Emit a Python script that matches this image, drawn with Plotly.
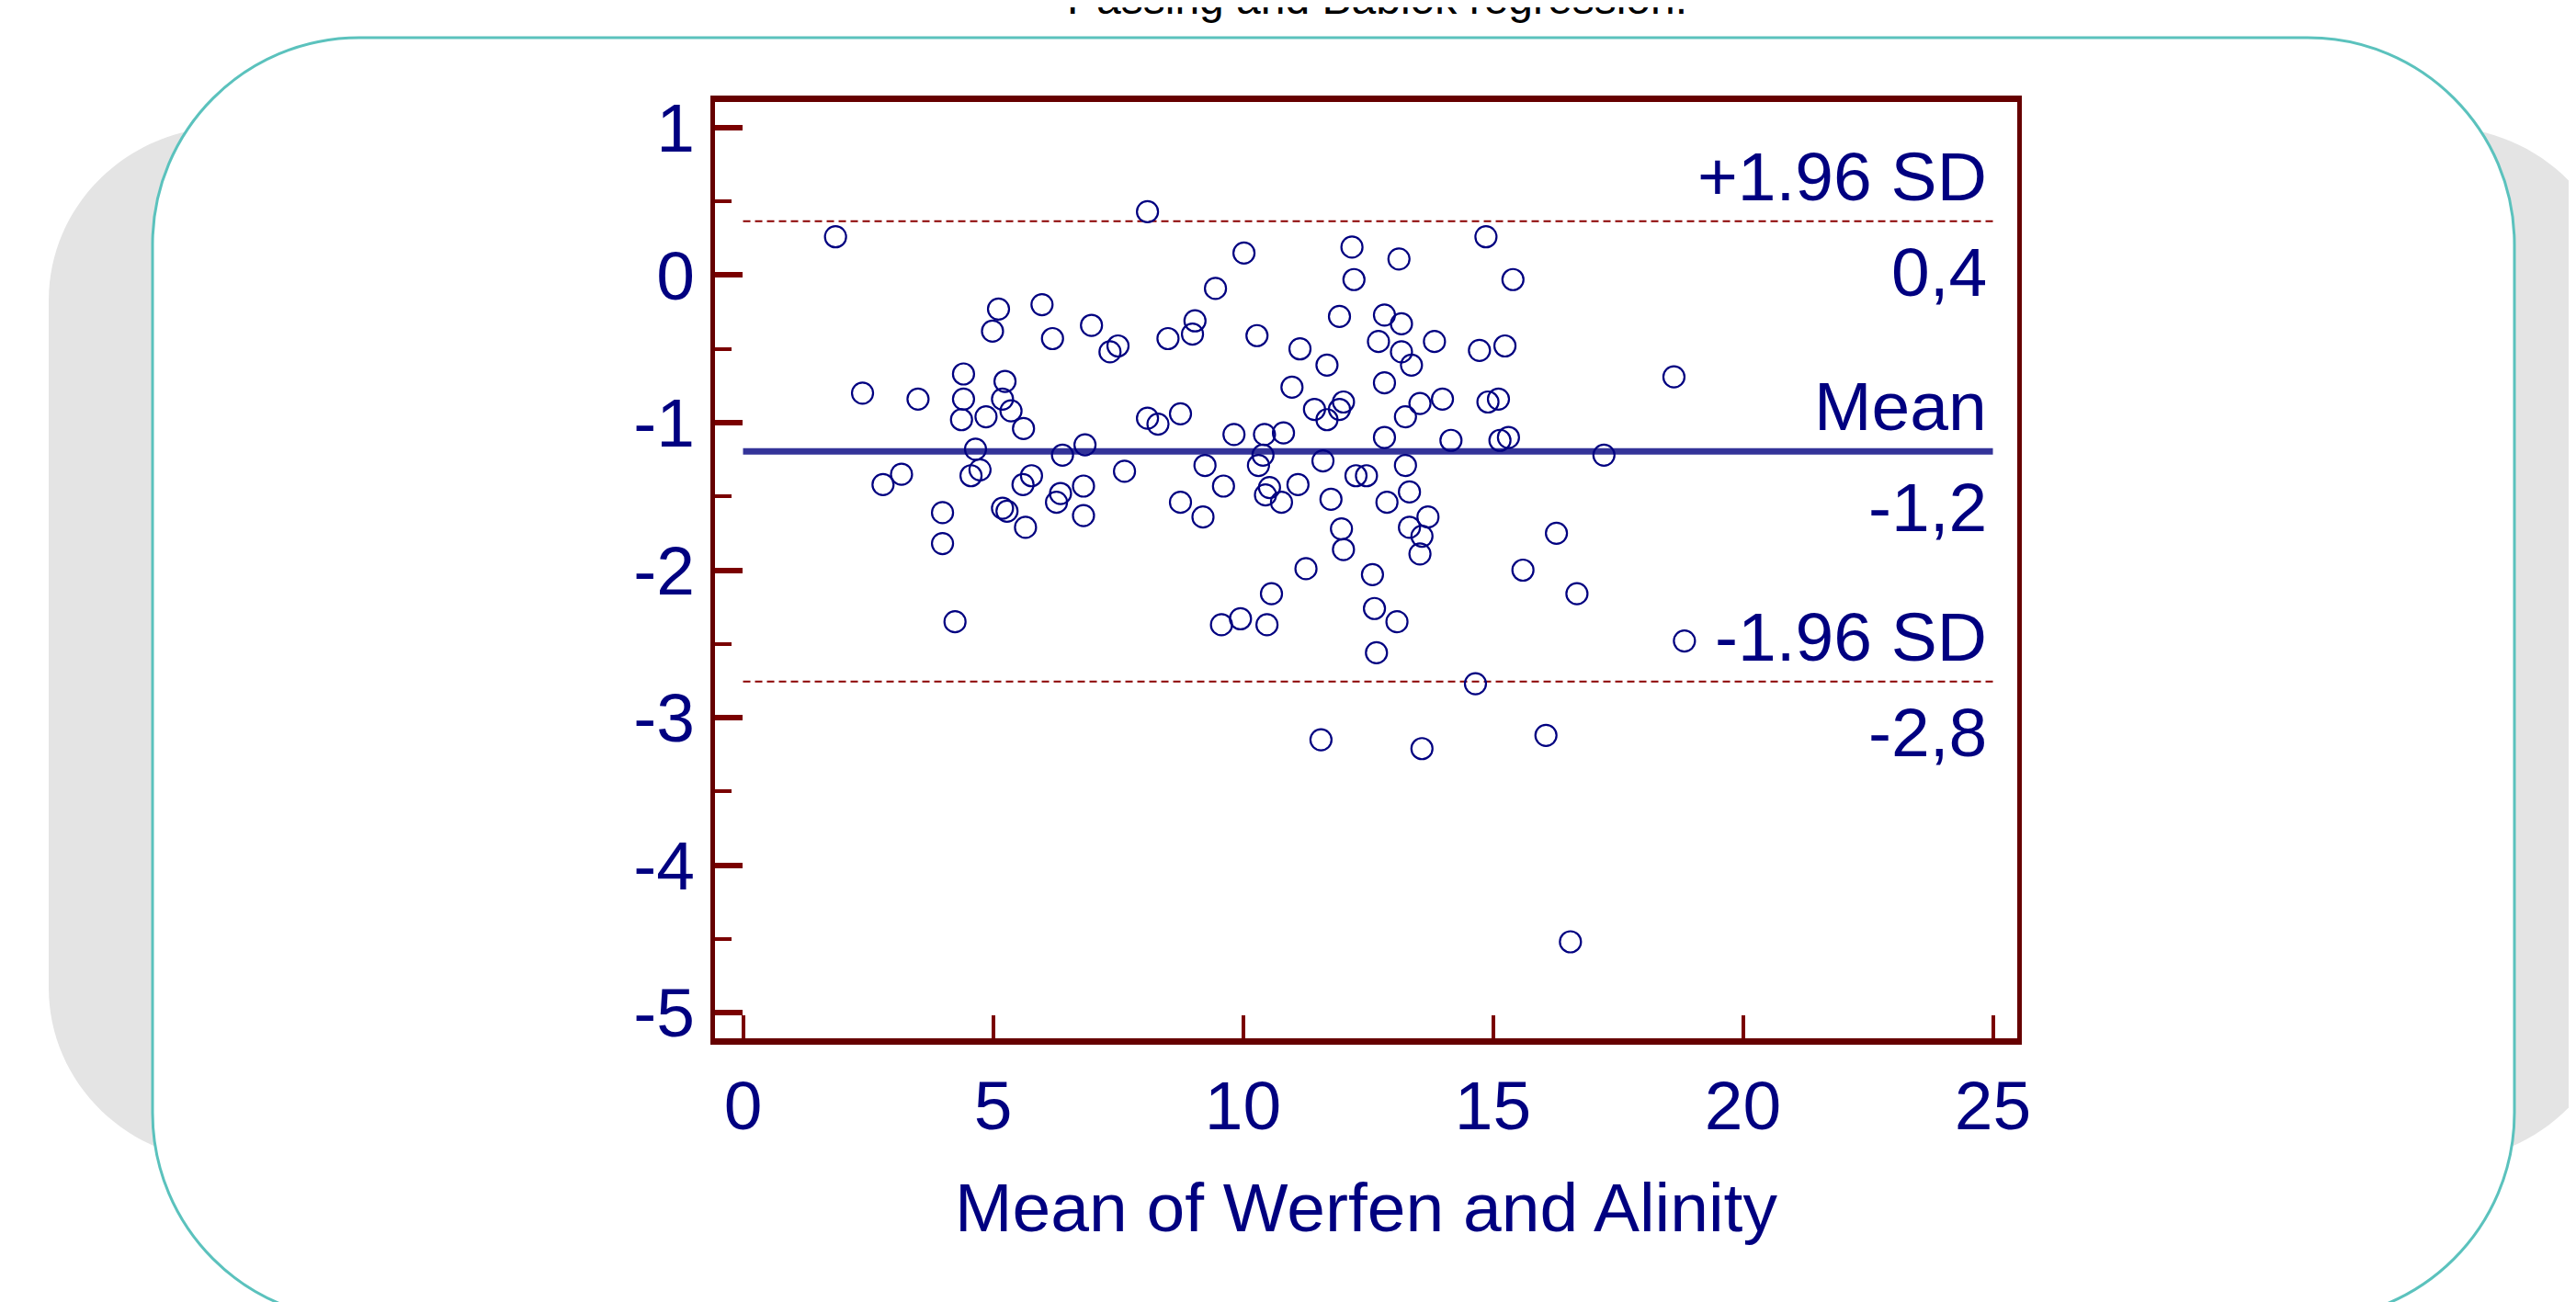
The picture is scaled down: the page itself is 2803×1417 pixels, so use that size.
import plotly.graph_objects as go

# ---------------- data ----------------
mean_x = [1.85, 8.09, 10.02, 9.45, 5.11, 5.98, 4.99, 6.19, 6.97, 7.50, 7.34, 8.50, 9.04, 8.99,
          4.41, 5.24, 2.39, 3.50, 4.41, 5.19, 5.36, 4.37, 4.86, 5.61, 8.09, 8.30, 8.75, 9.82,
          4.65, 6.84, 6.39, 3.17, 2.80, 4.56, 4.74, 5.77, 5.60, 7.63, 6.81, 6.35, 6.27, 9.24,
          9.61, 8.75, 9.20, 3.99, 5.19, 5.28, 5.65, 6.81, 3.99,
          12.18, 13.12, 14.86, 12.22, 15.40, 11.93, 12.83, 13.17, 10.28, 11.14, 12.71, 13.17,
          13.37, 13.83, 14.73, 15.24, 11.68, 10.98, 12.83, 18.62, 11.43, 12.01, 11.93, 11.68,
          13.54, 13.25, 13.99, 14.90, 15.11, 10.43, 10.81, 12.83, 14.16, 15.31, 15.14, 10.40,
          10.31, 11.60, 17.22, 13.25, 12.26, 12.47, 11.10, 10.53, 10.45, 10.77, 11.76, 13.33,
          12.88, 13.70, 13.33, 13.58, 13.54, 11.97, 12.01, 16.27, 11.26, 12.59, 15.60,
          4.24, 9.57, 9.95, 10.57, 16.68, 10.48, 12.63, 13.08, 12.67, 18.83, 14.65, 11.56,
          13.58, 16.06, 16.55]
diff_y = [0.26, 0.43, 0.15, -0.09, -0.23, -0.20, -0.38, -0.43, -0.34, -0.48, -0.52, -0.43, -0.31, -0.40,
          -0.67, -0.72, -0.80, -0.84, -0.84, -0.84, -0.92, -0.98, -0.96, -1.04, -0.97, -1.01, -0.94, -1.08,
          -1.18, -1.15, -1.22, -1.35, -1.42, -1.36, -1.32, -1.36, -1.42, -1.33, -1.43, -1.48, -1.54, -1.29,
          -1.43, -1.54, -1.64, -1.61, -1.58, -1.60, -1.71, -1.63, -1.82,
          0.19, 0.11, 0.26, -0.03, -0.03, -0.28, -0.27, -0.33, -0.41, -0.50, -0.45, -0.52,
          -0.61, -0.45, -0.51, -0.48, -0.61, -0.76, -0.73, -0.69, -0.91, -0.86, -0.91, -0.98,
          -0.87, -0.96, -0.84, -0.86, -0.84, -1.08, -1.07, -1.10, -1.12, -1.10, -1.12, -1.22,
          -1.29, -1.26, -1.22, -1.29, -1.36, -1.36, -1.42, -1.44, -1.49, -1.54, -1.52, -1.47,
          -1.54, -1.64, -1.71, -1.77, -1.89, -1.72, -1.86, -1.75, -1.99, -2.03, -2.00,
          -2.35, -2.37, -2.33, -2.16, -2.16, -2.37, -2.26, -2.35, -2.56, -2.48, -2.77, -3.15,
          -3.21, -3.12, -4.52]

mean_diff = -1.195
upper_loa = 0.365
lower_loa = -2.755
line_x = [0, 25]

x_ticks = [0, 5, 10, 15, 20, 25]
x_tick_text = ["0", "5", "10", "15", "20", "25"]
y_ticks = [1, 0, -1, -2, -3, -4, -5]
y_tick_text = ["1", "0", "-1", "-2", "-3", "-4", "-5"]

label_names = ["+1.96 SD", "0,4", "Mean", "-1,2", "-1.96 SD", "-2,8"]
label_levels = [upper_loa, upper_loa, mean_diff, mean_diff, lower_loa, lower_loa]
label_shift = [49, -55, 49, -61, 49, -55]

title_text = "Passing and Bablok regression."
x_title = "Mean of Werfen and Alinity"

# ---------------- layout geometry (pixels, page coordinates) ----------------
W, H = 2803, 1417
PAGE_OFF = 8  # default body margin of the html page
PL, PR, PT, PB = 778, 2195, 111, 1130  # plot area edges on the page

def px(X):
    return (X - PL) / (PR - PL)

def py(Y):
    return (PB - Y) / (PB - PT)

def rrect(x0, y0, x1, y1, rx, ry):
    k = 0.5523
    def P(x, y):
        return f"{px(x):.5f},{py(y):.5f}"
    d = (f"M {P(x0+rx, y0)} L {P(x1-rx, y0)} "
         f"C {P(x1-rx+k*rx, y0)} {P(x1, y0+ry-k*ry)} {P(x1, y0+ry)} "
         f"L {P(x1, y1-ry)} "
         f"C {P(x1, y1-ry+k*ry)} {P(x1-rx+k*rx, y1)} {P(x1-rx, y1)} "
         f"L {P(x0+rx, y1)} "
         f"C {P(x0+rx-k*rx, y1)} {P(x0, y1-ry+k*ry)} {P(x0, y1-ry)} "
         f"L {P(x0, y0+ry)} "
         f"C {P(x0, y0+ry-k*ry)} {P(x0+rx-k*rx, y0)} {P(x0+rx, y0)} Z")
    return d

FONT = "Liberation Sans, Arial, sans-serif"
NAVY = "#000080"
AXC = "#660000"
TICKC = "#7A0000"

fig = go.Figure()

fig.add_trace(go.Scatter(x=line_x, y=[upper_loa, upper_loa], mode="lines",
                         line=dict(color="#8B0000", width=2, dash="8px,5px"),
                         hoverinfo="skip", showlegend=False))
fig.add_trace(go.Scatter(x=line_x, y=[lower_loa, lower_loa], mode="lines",
                         line=dict(color="#8B0000", width=2, dash="8px,5px"),
                         hoverinfo="skip", showlegend=False))
fig.add_trace(go.Scatter(x=line_x, y=[mean_diff, mean_diff], mode="lines",
                         line=dict(color="#333399", width=7),
                         hoverinfo="skip", showlegend=False))
fig.add_trace(go.Scatter(x=mean_x, y=diff_y, mode="markers",
                         marker=dict(symbol="circle-open", size=23, color=NAVY,
                                     line=dict(width=2.2, color=NAVY)),
                         showlegend=False))

shapes = [
    dict(type="path", xref="paper", yref="paper", layer="below",
         path=rrect(53, 138, 2849, 1264, 195, 189),
         fillcolor="#E4E4E4", line=dict(width=0)),
    dict(type="path", xref="paper", yref="paper", layer="below",
         path=rrect(166, 41, 2736, 1436, 225, 225),
         fillcolor="#FFFFFF", line=dict(color="#5BC2BD", width=3)),
]

annotations = []
for name, lvl, sh in zip(label_names, label_levels, label_shift):
    annotations.append(dict(x=25, y=lvl, xref="x", yref="y", text=name, showarrow=False,
                            xanchor="right", yanchor="middle", xshift=-5, yshift=sh,
                            font=dict(family=FONT, size=75, color=NAVY)))
annotations.append(dict(x=0.5, y=py(1314), xref="paper", yref="paper", text=x_title,
                        showarrow=False, xanchor="center", yanchor="middle",
                        font=dict(family=FONT, size=75, color=NAVY)))
annotations.append(dict(x=px(1498), y=py(-2), xref="paper", yref="paper", text=title_text,
                        showarrow=False, xanchor="center", yanchor="middle",
                        font=dict(family=FONT, size=48, color="#000000")))

fig.update_layout(
    width=W, height=H,
    margin=dict(l=PL - PAGE_OFF, r=W - PR + PAGE_OFF, t=PT - PAGE_OFF, b=H - PB + PAGE_OFF, pad=0),
    paper_bgcolor="#FFFFFF",
    plot_bgcolor="rgba(0,0,0,0)",
    shapes=shapes,
    annotations=annotations,
    showlegend=False,
)

fig.update_xaxes(
    range=[-0.561, 25.487], showgrid=False, zeroline=False,
    showline=True, linecolor=AXC, linewidth=7, mirror=True,
    ticks="inside", ticklen=25, tickwidth=4, tickcolor=TICKC,
    tickvals=x_ticks, ticktext=x_tick_text,
    tickfont=dict(family=FONT, size=75, color=NAVY),
    ticklabelstandoff=2,
)
fig.update_yaxes(
    range=[-5.174, 1.174], showgrid=False, zeroline=False,
    showline=True, linecolor=AXC, linewidth=5, mirror=True,
    ticks="inside", ticklen=30, tickwidth=6, tickcolor=TICKC,
    tickvals=y_ticks, ticktext=y_tick_text,
    tickfont=dict(family=FONT, size=75, color=NAVY),
    ticklabelstandoff=2,
    minor=dict(tickvals=[0.5, -0.5, -1.5, -2.5, -3.5, -4.5], ticks="inside",
               ticklen=18, tickwidth=4, tickcolor=TICKC),
)

fig.write_html("out.html")
